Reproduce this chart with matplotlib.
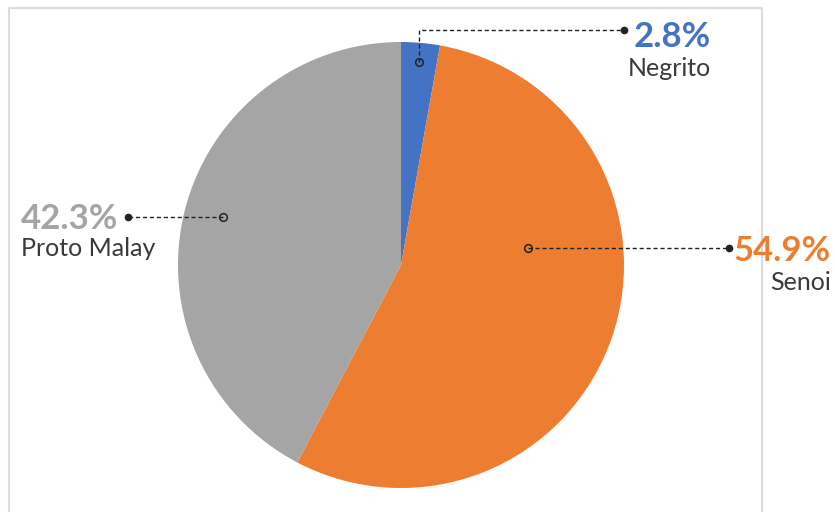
import matplotlib
matplotlib.use("Agg")
import matplotlib.pyplot as plt
from matplotlib.lines import Line2D

categories = ["Negrito", "Senoi", "Proto Malay"]
values = [2.8, 54.9, 42.3]
colors = ["#4472C4", "#ED7D31", "#A5A5A5"]

W, H = 835, 512
fig = plt.figure(figsize=(W / 100, H / 100), dpi=100)
ax = fig.add_axes([0, 0, 1, 1])
ax.axis("off")

# pie centered at pixel (401, 265), radius 223 px -> data radius 1
cx, cy, R = 401, 265, 223

ax.pie(values, colors=colors, startangle=90, counterclock=False,
       radius=1.0, center=(0, 0), wedgeprops=dict(linewidth=0))
ax.set_aspect("auto")
ax.set_xlim((0 - cx) / R, (W - cx) / R)
ax.set_ylim((cy - H) / R, cy / R)

# frame (light gray border)
fig.add_artist(Line2D([8.5 / W, 8.5 / W, 762 / W, 762 / W],
                      [0, 1 - 8 / H, 1 - 8 / H, 0],
                      transform=fig.transFigure, color="#dcdcdc", lw=1.5, zorder=0))

def px(x, y):
    return ((x - cx) / R, (cy - y) / R)

dash = dict(color="#222222", lw=1.0, linestyle=(0, (3, 2)))

def leader(points, open_pt, filled_pt):
    xs = [p[0] for p in points]
    ys = [p[1] for p in points]
    ax.plot(xs, ys, **dash, zorder=5)
    ax.plot(*open_pt, marker="o", ms=5.5, mfc="none", mec="#222222", mew=1.1, zorder=6)
    ax.plot(*filled_pt, marker="o", ms=4.5, mfc="#222222", mec="#222222", zorder=6)

# Negrito
o = px(419, 62); e = px(419, 30); f = px(624, 30)
leader([o, e, f], o, f)
# Senoi
o2 = px(528, 248); f2 = px(729, 248)
leader([o2, f2], o2, f2)
# Proto Malay
o3 = px(223, 217); f3 = px(128, 217)
leader([o3, f3], o3, f3)

pct_kw = dict(fontfamily="Lato", fontweight="bold", fontsize=25, va="center")
lab_kw = dict(fontfamily="Lato", fontweight="normal", fontsize=18, va="center", color="#3a3a3a")

labels = [f"{v:.1f}%" for v in values]

# Negrito
ax.text(*px(711, 37), labels[0], color=colors[0], ha="right", **pct_kw)
ax.text(*px(711, 68), categories[0], ha="right", **lab_kw)
# Senoi
ax.text(*px(831, 251), labels[1], color=colors[1], ha="right", **pct_kw)
ax.text(*px(831, 282), categories[1], ha="right", **lab_kw)
# Proto Malay
ax.text(*px(21, 219), labels[2], color=colors[2], ha="left", **pct_kw)
ax.text(*px(21, 249), categories[2], ha="left", **lab_kw)

fig.savefig("out.png", dpi=100)
